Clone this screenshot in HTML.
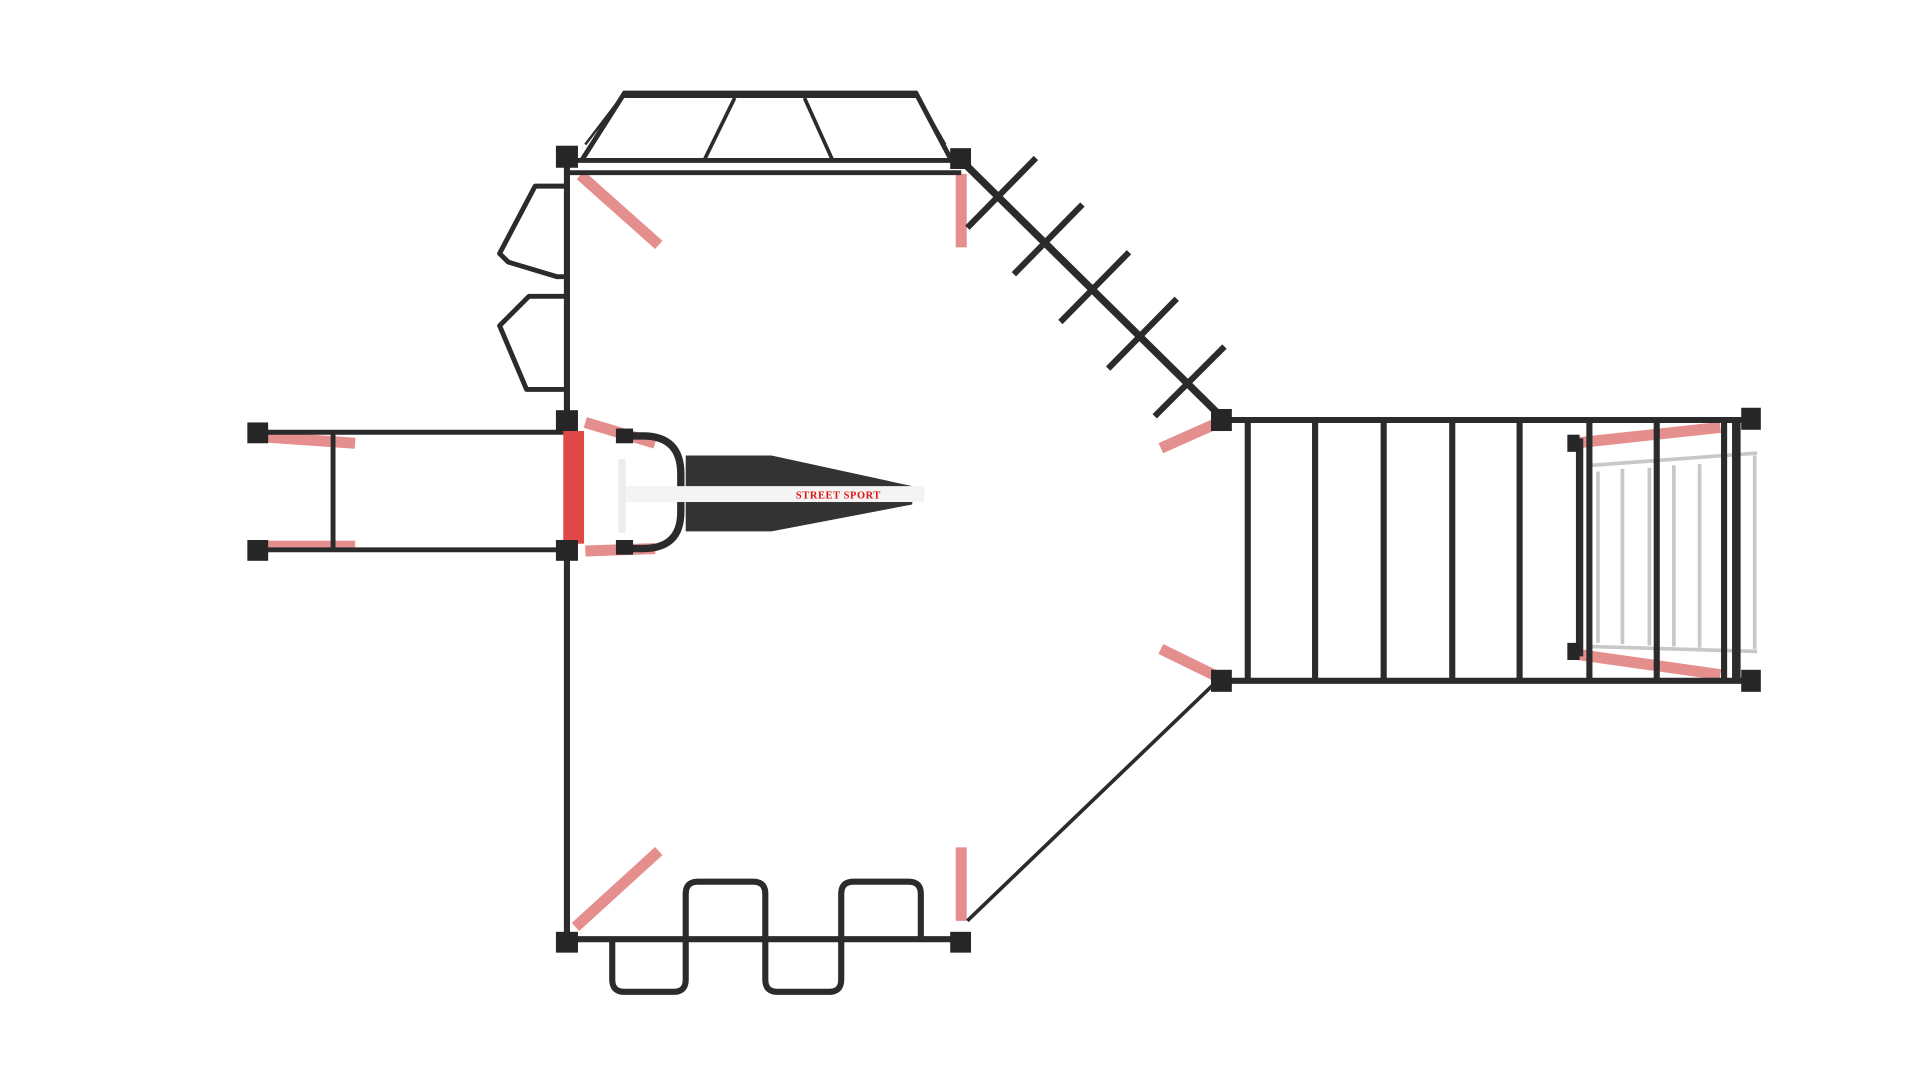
<!DOCTYPE html>
<html><head><meta charset="utf-8"><style>html,body{margin:0;padding:0;background:#fff;overflow:hidden}svg{display:block}</style></head>
<body>
<svg width="1920" height="1080" viewBox="0 0 1568 882" preserveAspectRatio="none" xmlns="http://www.w3.org/2000/svg">
<rect width="1568" height="882" fill="#fff"/>
<g stroke-linecap="butt" fill="none">
<!-- red braces -->
<g stroke="#e07a7a" stroke-width="9" opacity="0.85">
<line x1="474" y1="143" x2="538" y2="200"/>
<line x1="785" y1="142" x2="785" y2="202"/>
<line x1="470" y1="757" x2="538" y2="695"/>
<line x1="785" y1="752" x2="785" y2="692"/>
<line x1="948" y1="366" x2="993" y2="346"/>
<line x1="948" y1="530" x2="993" y2="552"/>
<line x1="1285" y1="362" x2="1405" y2="349"/>
<line x1="1285" y1="534" x2="1405" y2="551"/>
<line x1="218" y1="357" x2="290" y2="362"/>
<line x1="218" y1="446" x2="290" y2="446"/>
<line x1="478" y1="345" x2="535" y2="362"/>
<line x1="478" y1="450" x2="535" y2="448"/>
</g>
<!-- gray stairs -->
<g stroke="#c8c8c8" stroke-width="3">
<line x1="1300" y1="380" x2="1435" y2="370"/>
<line x1="1300" y1="528" x2="1435" y2="532"/>
<line x1="1305" y1="385" x2="1305" y2="525"/>
<line x1="1325" y1="383" x2="1325" y2="526"/>
<line x1="1347" y1="382" x2="1347" y2="527"/>
<line x1="1367" y1="380" x2="1367" y2="528"/>
<line x1="1388" y1="379" x2="1388" y2="529"/>
<line x1="1433" y1="372" x2="1433" y2="530"/>
</g>
<g stroke="#2b2b2b">
<!-- main left post line -->
<line x1="463" y1="128" x2="463" y2="770" stroke-width="5"/>
<!-- top monkey bars -->
<line x1="463" y1="131" x2="785" y2="131" stroke-width="4"/>
<line x1="463" y1="141" x2="785" y2="141" stroke-width="4"/>
<polyline points="475,131 510,76 748,76 777,131" stroke-width="4"/>
<line x1="510" y1="79" x2="748" y2="79" stroke-width="2"/>
<line x1="575" y1="131" x2="600" y2="80" stroke-width="3"/>
<line x1="657" y1="80" x2="680" y2="131" stroke-width="3"/>
<line x1="510" y1="76" x2="478" y2="118" stroke-width="2"/>
<line x1="748" y1="76" x2="772" y2="118" stroke-width="2"/>
<!-- diagonal ladder -->
<line x1="785" y1="131" x2="997" y2="340" stroke-width="6"/>
<g stroke-width="5">
<line x1="790" y1="186" x2="846" y2="129"/>
<line x1="828" y1="224" x2="884" y2="167"/>
<line x1="866" y1="263" x2="922" y2="206"/>
<line x1="905" y1="301" x2="961" y2="244"/>
<line x1="943" y1="340" x2="1000" y2="283"/>
</g>
<!-- lower diagonal -->
<line x1="790" y1="752" x2="992" y2="558" stroke-width="3"/>
<!-- right ladder -->
<line x1="1000" y1="343" x2="1432" y2="343" stroke-width="5"/>
<line x1="1000" y1="556" x2="1432" y2="556" stroke-width="5"/>
<g stroke-width="5">
<line x1="1019" y1="343" x2="1019" y2="556"/>
<line x1="1074" y1="343" x2="1074" y2="556"/>
<line x1="1130" y1="343" x2="1130" y2="556"/>
<line x1="1186" y1="343" x2="1186" y2="556"/>
<line x1="1241" y1="343" x2="1241" y2="556"/>
<line x1="1298" y1="343" x2="1298" y2="556"/>
<line x1="1353" y1="343" x2="1353" y2="556"/>
<line x1="1408" y1="343" x2="1408" y2="556"/>
<line x1="1290" y1="358" x2="1290" y2="536" stroke-width="6"/>
<line x1="1418" y1="343" x2="1418" y2="556" stroke-width="7"/>
</g>
<!-- left bars -->
<line x1="210" y1="353" x2="463" y2="353" stroke-width="4"/>
<line x1="210" y1="449" x2="463" y2="449" stroke-width="4"/>
<line x1="272" y1="353" x2="272" y2="449" stroke-width="4"/>
<!-- left zigzag -->
<polyline points="463,152 437,152 408,207 415,214 455,226 463,226" stroke-width="4" stroke-linejoin="round"/>
<polyline points="463,242 432,242 408,266 430,318 463,318" stroke-width="4" stroke-linejoin="round"/>
<!-- bottom -->
<line x1="463" y1="767" x2="785" y2="767" stroke-width="5"/>
<path d="M500,767 V800 Q500,810 510,810 H550 Q560,810 560,800 V730 Q560,720 570,720 H615 Q625,720 625,730 V800 Q625,810 635,810 H677 Q687,810 687,800 V730 Q687,720 697,720 H742 Q752,720 752,730 V767" stroke-width="5"/>
<!-- dip bar -->
<path d="M505,356 H525 Q556,356 556,387 V418 Q556,448 525,448 H505" stroke-width="6"/>
</g>
</g>
<!-- center wedge -->
<polygon points="560,372 630,372 745,397 745,412 630,434 560,434" fill="#333"/>
<rect x="505" y="397" width="250" height="13" fill="#f4f4f4"/>
<rect x="505" y="375" width="6" height="60" fill="#ececec"/>
<text x="650" y="407" font-family="Liberation Serif, serif" font-weight="bold" font-size="8.5" fill="#e01010" letter-spacing="0.5">STREET SPORT</text>
<!-- red panel -->
<rect x="460" y="352" width="17" height="92" fill="#e04848"/>
<!-- posts -->
<g fill="#262626">
<rect x="454" y="119" width="18" height="18"/>
<rect x="776" y="121" width="17" height="17"/>
<rect x="454" y="335" width="18" height="17"/>
<rect x="454" y="441" width="18" height="17"/>
<rect x="454" y="761" width="18" height="17"/>
<rect x="776" y="761" width="17" height="17"/>
<rect x="989" y="334" width="17" height="18"/>
<rect x="989" y="547" width="17" height="18"/>
<rect x="1422" y="333" width="16" height="18"/>
<rect x="1422" y="547" width="16" height="18"/>
<rect x="202" y="345" width="17" height="17"/>
<rect x="202" y="441" width="17" height="17"/>
<rect x="1280" y="355" width="10" height="14"/>
<rect x="1280" y="525" width="10" height="14"/>
<rect x="503" y="350" width="14" height="12"/>
<rect x="503" y="441" width="14" height="12"/>
</g>
</svg>
</body></html>
